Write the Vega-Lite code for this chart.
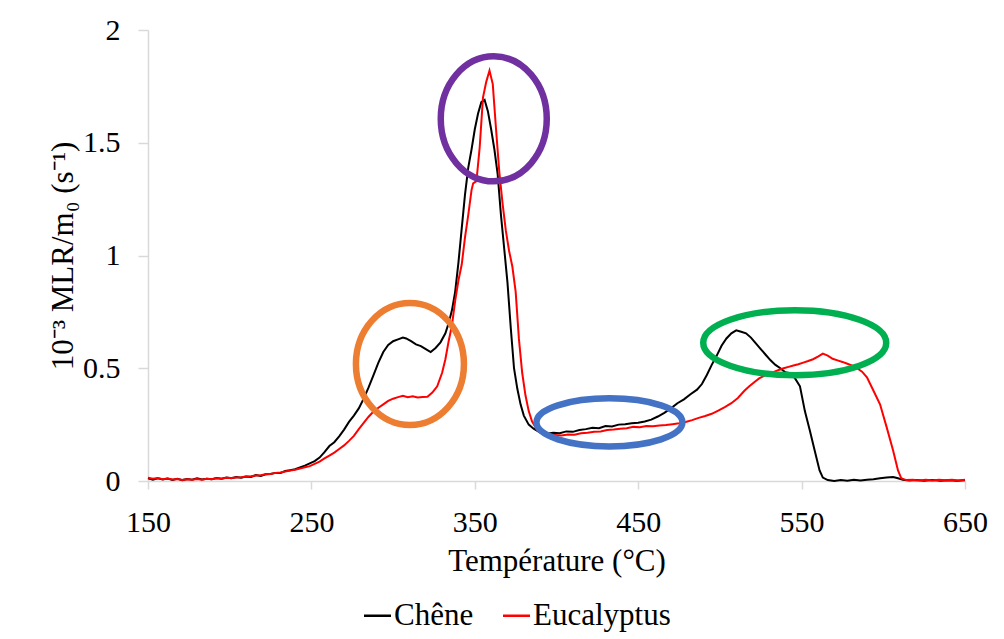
{
  "$schema": "https://vega.github.io/schema/vega-lite/v6.json",
  "width": 817,
  "height": 451,
  "autosize": {"type": "none"},
  "padding": {"left": 148, "top": 30, "right": 39, "bottom": 158},
  "background": "white",
  "config": {
    "view": {"stroke": null},
    "font": "Liberation Serif",
    "axis": {
      "labelFont": "Liberation Serif",
      "titleFont": "Liberation Serif",
      "labelColor": "#000000",
      "titleColor": "#000000",
      "titleFontWeight": "normal",
      "domainColor": "#D9D9D9",
      "domainWidth": 1.5,
      "tickColor": "#D9D9D9",
      "tickWidth": 1.5,
      "grid": false,
      "labelFlush": false,
      "labelOverlap": false
    },
    "legend": {
      "labelFont": "Liberation Serif",
      "labelColor": "#000000"
    }
  },
  "datasets": {
    "curves": [
      {"s":"Chêne","T":150,"v":0.012},{"s":"Chêne","T":153,"v":0.006},{"s":"Chêne","T":156,"v":0.012},{"s":"Chêne","T":159,"v":0.007},{"s":"Chêne","T":162,"v":0.011},{"s":"Chêne","T":165,"v":0.005},{"s":"Chêne","T":168,"v":0.010},{"s":"Chêne","T":171,"v":0.004},{"s":"Chêne","T":174,"v":0.009},{"s":"Chêne","T":177,"v":0.006},{"s":"Chêne","T":180,"v":0.012},{"s":"Chêne","T":183,"v":0.007},{"s":"Chêne","T":186,"v":0.010},{"s":"Chêne","T":189,"v":0.008},{"s":"Chêne","T":192,"v":0.013},{"s":"Chêne","T":195,"v":0.010},{"s":"Chêne","T":198,"v":0.015},{"s":"Chêne","T":201,"v":0.012},{"s":"Chêne","T":204,"v":0.018},{"s":"Chêne","T":207,"v":0.015},{"s":"Chêne","T":210,"v":0.020},{"s":"Chêne","T":213,"v":0.018},{"s":"Chêne","T":216,"v":0.026},{"s":"Chêne","T":219,"v":0.022},{"s":"Chêne","T":222,"v":0.030},{"s":"Chêne","T":225,"v":0.031},{"s":"Chêne","T":228,"v":0.036},{"s":"Chêne","T":231,"v":0.035},{"s":"Chêne","T":234,"v":0.044},{"s":"Chêne","T":237,"v":0.048},{"s":"Chêne","T":240,"v":0.052},{"s":"Chêne","T":243,"v":0.060},{"s":"Chêne","T":246,"v":0.068},{"s":"Chêne","T":249,"v":0.078},{"s":"Chêne","T":252,"v":0.088},{"s":"Chêne","T":255,"v":0.104},{"s":"Chêne","T":258,"v":0.128},{"s":"Chêne","T":261,"v":0.155},{"s":"Chêne","T":264,"v":0.172},{"s":"Chêne","T":267,"v":0.198},{"s":"Chêne","T":270,"v":0.228},{"s":"Chêne","T":273,"v":0.262},{"s":"Chêne","T":276,"v":0.290},{"s":"Chêne","T":279,"v":0.322},{"s":"Chêne","T":282,"v":0.365},{"s":"Chêne","T":285,"v":0.415},{"s":"Chêne","T":288,"v":0.470},{"s":"Chêne","T":291,"v":0.525},{"s":"Chêne","T":294,"v":0.572},{"s":"Chêne","T":297,"v":0.603},{"s":"Chêne","T":300,"v":0.620},{"s":"Chêne","T":303,"v":0.628},{"s":"Chêne","T":306,"v":0.636},{"s":"Chêne","T":308,"v":0.632},{"s":"Chêne","T":311,"v":0.620},{"s":"Chêne","T":314,"v":0.606},{"s":"Chêne","T":317,"v":0.598},{"s":"Chêne","T":320,"v":0.585},{"s":"Chêne","T":323,"v":0.572},{"s":"Chêne","T":326,"v":0.590},{"s":"Chêne","T":329,"v":0.615},{"s":"Chêne","T":332,"v":0.655},{"s":"Chêne","T":334,"v":0.700},{"s":"Chêne","T":336,"v":0.757},{"s":"Chêne","T":338,"v":0.84},{"s":"Chêne","T":340,"v":0.97},{"s":"Chêne","T":342,"v":1.12},{"s":"Chêne","T":344,"v":1.27},{"s":"Chêne","T":346,"v":1.39},{"s":"Chêne","T":348,"v":1.47},{"s":"Chêne","T":350,"v":1.56},{"s":"Chêne","T":352,"v":1.63},{"s":"Chêne","T":354,"v":1.68},{"s":"Chêne","T":356,"v":1.69},{"s":"Chêne","T":358,"v":1.64},{"s":"Chêne","T":360,"v":1.56},{"s":"Chêne","T":362,"v":1.47},{"s":"Chêne","T":364,"v":1.36},{"s":"Chêne","T":366,"v":1.18},{"s":"Chêne","T":368,"v":1.03},{"s":"Chêne","T":370,"v":0.88},{"s":"Chêne","T":372,"v":0.68},{"s":"Chêne","T":374,"v":0.50},{"s":"Chêne","T":376,"v":0.41},{"s":"Chêne","T":378,"v":0.34},{"s":"Chêne","T":380,"v":0.29},{"s":"Chêne","T":383,"v":0.25},{"s":"Chêne","T":386,"v":0.232},{"s":"Chêne","T":390,"v":0.215},{"s":"Chêne","T":394,"v":0.210},{"s":"Chêne","T":398,"v":0.214},{"s":"Chêne","T":402,"v":0.212},{"s":"Chêne","T":406,"v":0.220},{"s":"Chêne","T":410,"v":0.218},{"s":"Chêne","T":414,"v":0.226},{"s":"Chêne","T":418,"v":0.230},{"s":"Chêne","T":422,"v":0.236},{"s":"Chêne","T":426,"v":0.234},{"s":"Chêne","T":430,"v":0.244},{"s":"Chêne","T":434,"v":0.242},{"s":"Chêne","T":438,"v":0.250},{"s":"Chêne","T":442,"v":0.252},{"s":"Chêne","T":446,"v":0.256},{"s":"Chêne","T":450,"v":0.258},{"s":"Chêne","T":454,"v":0.264},{"s":"Chêne","T":458,"v":0.272},{"s":"Chêne","T":462,"v":0.286},{"s":"Chêne","T":466,"v":0.302},{"s":"Chêne","T":470,"v":0.322},{"s":"Chêne","T":474,"v":0.345},{"s":"Chêne","T":478,"v":0.362},{"s":"Chêne","T":482,"v":0.385},{"s":"Chêne","T":486,"v":0.405},{"s":"Chêne","T":489,"v":0.430},{"s":"Chêne","T":492,"v":0.470},{"s":"Chêne","T":495,"v":0.515},{"s":"Chêne","T":498,"v":0.555},{"s":"Chêne","T":501,"v":0.600},{"s":"Chêne","T":504,"v":0.632},{"s":"Chêne","T":507,"v":0.655},{"s":"Chêne","T":510,"v":0.668},{"s":"Chêne","T":513,"v":0.662},{"s":"Chêne","T":516,"v":0.655},{"s":"Chêne","T":519,"v":0.636},{"s":"Chêne","T":522,"v":0.610},{"s":"Chêne","T":525,"v":0.585},{"s":"Chêne","T":528,"v":0.560},{"s":"Chêne","T":531,"v":0.535},{"s":"Chêne","T":534,"v":0.515},{"s":"Chêne","T":537,"v":0.500},{"s":"Chêne","T":540,"v":0.482},{"s":"Chêne","T":543,"v":0.478},{"s":"Chêne","T":546,"v":0.455},{"s":"Chêne","T":549,"v":0.420},{"s":"Chêne","T":552,"v":0.310},{"s":"Chêne","T":555,"v":0.225},{"s":"Chêne","T":558,"v":0.135},{"s":"Chêne","T":561,"v":0.047},{"s":"Chêne","T":563,"v":0.015},{"s":"Chêne","T":566,"v":0.004},{"s":"Chêne","T":570,"v":0.000},{"s":"Chêne","T":574,"v":0.004},{"s":"Chêne","T":578,"v":0.001},{"s":"Chêne","T":582,"v":0.005},{"s":"Chêne","T":586,"v":0.002},{"s":"Chêne","T":590,"v":0.006},{"s":"Chêne","T":594,"v":0.008},{"s":"Chêne","T":598,"v":0.012},{"s":"Chêne","T":602,"v":0.016},{"s":"Chêne","T":606,"v":0.018},{"s":"Chêne","T":609,"v":0.012},{"s":"Chêne","T":612,"v":0.005},{"s":"Chêne","T":616,"v":0.002},{"s":"Chêne","T":620,"v":0.004},{"s":"Chêne","T":625,"v":0.001},{"s":"Chêne","T":630,"v":0.004},{"s":"Chêne","T":635,"v":0.001},{"s":"Chêne","T":640,"v":0.003},{"s":"Chêne","T":645,"v":0.001},{"s":"Chêne","T":650,"v":0.003},
      {"s":"Eucalyptus","T":150,"v":0.015},{"s":"Eucalyptus","T":153,"v":0.010},{"s":"Eucalyptus","T":156,"v":0.013},{"s":"Eucalyptus","T":159,"v":0.008},{"s":"Eucalyptus","T":162,"v":0.011},{"s":"Eucalyptus","T":165,"v":0.007},{"s":"Eucalyptus","T":168,"v":0.009},{"s":"Eucalyptus","T":171,"v":0.005},{"s":"Eucalyptus","T":174,"v":0.008},{"s":"Eucalyptus","T":177,"v":0.006},{"s":"Eucalyptus","T":180,"v":0.009},{"s":"Eucalyptus","T":183,"v":0.006},{"s":"Eucalyptus","T":186,"v":0.010},{"s":"Eucalyptus","T":189,"v":0.008},{"s":"Eucalyptus","T":192,"v":0.012},{"s":"Eucalyptus","T":195,"v":0.010},{"s":"Eucalyptus","T":198,"v":0.014},{"s":"Eucalyptus","T":201,"v":0.013},{"s":"Eucalyptus","T":204,"v":0.016},{"s":"Eucalyptus","T":207,"v":0.017},{"s":"Eucalyptus","T":210,"v":0.020},{"s":"Eucalyptus","T":213,"v":0.021},{"s":"Eucalyptus","T":216,"v":0.024},{"s":"Eucalyptus","T":219,"v":0.026},{"s":"Eucalyptus","T":222,"v":0.030},{"s":"Eucalyptus","T":225,"v":0.031},{"s":"Eucalyptus","T":228,"v":0.036},{"s":"Eucalyptus","T":231,"v":0.038},{"s":"Eucalyptus","T":234,"v":0.042},{"s":"Eucalyptus","T":237,"v":0.046},{"s":"Eucalyptus","T":240,"v":0.050},{"s":"Eucalyptus","T":243,"v":0.055},{"s":"Eucalyptus","T":246,"v":0.061},{"s":"Eucalyptus","T":249,"v":0.066},{"s":"Eucalyptus","T":252,"v":0.076},{"s":"Eucalyptus","T":255,"v":0.086},{"s":"Eucalyptus","T":258,"v":0.100},{"s":"Eucalyptus","T":261,"v":0.113},{"s":"Eucalyptus","T":264,"v":0.126},{"s":"Eucalyptus","T":267,"v":0.142},{"s":"Eucalyptus","T":270,"v":0.158},{"s":"Eucalyptus","T":273,"v":0.178},{"s":"Eucalyptus","T":276,"v":0.200},{"s":"Eucalyptus","T":279,"v":0.230},{"s":"Eucalyptus","T":282,"v":0.258},{"s":"Eucalyptus","T":285,"v":0.285},{"s":"Eucalyptus","T":288,"v":0.308},{"s":"Eucalyptus","T":291,"v":0.325},{"s":"Eucalyptus","T":294,"v":0.340},{"s":"Eucalyptus","T":297,"v":0.355},{"s":"Eucalyptus","T":300,"v":0.365},{"s":"Eucalyptus","T":303,"v":0.372},{"s":"Eucalyptus","T":306,"v":0.378},{"s":"Eucalyptus","T":309,"v":0.372},{"s":"Eucalyptus","T":312,"v":0.376},{"s":"Eucalyptus","T":315,"v":0.370},{"s":"Eucalyptus","T":318,"v":0.372},{"s":"Eucalyptus","T":321,"v":0.374},{"s":"Eucalyptus","T":324,"v":0.392},{"s":"Eucalyptus","T":327,"v":0.420},{"s":"Eucalyptus","T":330,"v":0.480},{"s":"Eucalyptus","T":332,"v":0.540},{"s":"Eucalyptus","T":334,"v":0.620},{"s":"Eucalyptus","T":336,"v":0.690},{"s":"Eucalyptus","T":338,"v":0.800},{"s":"Eucalyptus","T":340,"v":0.890},{"s":"Eucalyptus","T":342,"v":0.960},{"s":"Eucalyptus","T":344,"v":1.080},{"s":"Eucalyptus","T":346,"v":1.180},{"s":"Eucalyptus","T":348,"v":1.290},{"s":"Eucalyptus","T":349,"v":1.320},{"s":"Eucalyptus","T":351,"v":1.330},{"s":"Eucalyptus","T":353,"v":1.480},{"s":"Eucalyptus","T":355,"v":1.700},{"s":"Eucalyptus","T":357,"v":1.770},{"s":"Eucalyptus","T":359,"v":1.820},{"s":"Eucalyptus","T":361,"v":1.760},{"s":"Eucalyptus","T":363,"v":1.560},{"s":"Eucalyptus","T":365,"v":1.370},{"s":"Eucalyptus","T":367,"v":1.230},{"s":"Eucalyptus","T":369,"v":1.110},{"s":"Eucalyptus","T":371,"v":1.020},{"s":"Eucalyptus","T":373,"v":0.950},{"s":"Eucalyptus","T":375,"v":0.840},{"s":"Eucalyptus","T":377,"v":0.630},{"s":"Eucalyptus","T":379,"v":0.480},{"s":"Eucalyptus","T":381,"v":0.380},{"s":"Eucalyptus","T":383,"v":0.310},{"s":"Eucalyptus","T":385,"v":0.265},{"s":"Eucalyptus","T":388,"v":0.228},{"s":"Eucalyptus","T":391,"v":0.212},{"s":"Eucalyptus","T":395,"v":0.206},{"s":"Eucalyptus","T":399,"v":0.204},{"s":"Eucalyptus","T":403,"v":0.202},{"s":"Eucalyptus","T":407,"v":0.206},{"s":"Eucalyptus","T":411,"v":0.205},{"s":"Eucalyptus","T":415,"v":0.212},{"s":"Eucalyptus","T":419,"v":0.214},{"s":"Eucalyptus","T":423,"v":0.218},{"s":"Eucalyptus","T":427,"v":0.220},{"s":"Eucalyptus","T":431,"v":0.226},{"s":"Eucalyptus","T":435,"v":0.228},{"s":"Eucalyptus","T":439,"v":0.232},{"s":"Eucalyptus","T":443,"v":0.234},{"s":"Eucalyptus","T":447,"v":0.240},{"s":"Eucalyptus","T":451,"v":0.238},{"s":"Eucalyptus","T":455,"v":0.244},{"s":"Eucalyptus","T":459,"v":0.243},{"s":"Eucalyptus","T":463,"v":0.246},{"s":"Eucalyptus","T":467,"v":0.248},{"s":"Eucalyptus","T":471,"v":0.252},{"s":"Eucalyptus","T":475,"v":0.256},{"s":"Eucalyptus","T":479,"v":0.262},{"s":"Eucalyptus","T":483,"v":0.270},{"s":"Eucalyptus","T":487,"v":0.280},{"s":"Eucalyptus","T":491,"v":0.288},{"s":"Eucalyptus","T":495,"v":0.298},{"s":"Eucalyptus","T":499,"v":0.312},{"s":"Eucalyptus","T":503,"v":0.328},{"s":"Eucalyptus","T":507,"v":0.345},{"s":"Eucalyptus","T":511,"v":0.368},{"s":"Eucalyptus","T":515,"v":0.400},{"s":"Eucalyptus","T":518,"v":0.420},{"s":"Eucalyptus","T":521,"v":0.438},{"s":"Eucalyptus","T":524,"v":0.455},{"s":"Eucalyptus","T":527,"v":0.466},{"s":"Eucalyptus","T":530,"v":0.476},{"s":"Eucalyptus","T":533,"v":0.484},{"s":"Eucalyptus","T":536,"v":0.492},{"s":"Eucalyptus","T":539,"v":0.500},{"s":"Eucalyptus","T":542,"v":0.506},{"s":"Eucalyptus","T":545,"v":0.512},{"s":"Eucalyptus","T":548,"v":0.518},{"s":"Eucalyptus","T":551,"v":0.525},{"s":"Eucalyptus","T":554,"v":0.532},{"s":"Eucalyptus","T":557,"v":0.540},{"s":"Eucalyptus","T":560,"v":0.552},{"s":"Eucalyptus","T":563,"v":0.565},{"s":"Eucalyptus","T":566,"v":0.556},{"s":"Eucalyptus","T":569,"v":0.542},{"s":"Eucalyptus","T":572,"v":0.535},{"s":"Eucalyptus","T":575,"v":0.528},{"s":"Eucalyptus","T":578,"v":0.520},{"s":"Eucalyptus","T":581,"v":0.512},{"s":"Eucalyptus","T":584,"v":0.500},{"s":"Eucalyptus","T":587,"v":0.485},{"s":"Eucalyptus","T":590,"v":0.460},{"s":"Eucalyptus","T":594,"v":0.400},{"s":"Eucalyptus","T":598,"v":0.340},{"s":"Eucalyptus","T":602,"v":0.240},{"s":"Eucalyptus","T":606,"v":0.135},{"s":"Eucalyptus","T":609,"v":0.047},{"s":"Eucalyptus","T":611,"v":0.012},{"s":"Eucalyptus","T":614,"v":0.004},{"s":"Eucalyptus","T":618,"v":0.006},{"s":"Eucalyptus","T":622,"v":0.002},{"s":"Eucalyptus","T":626,"v":0.005},{"s":"Eucalyptus","T":630,"v":0.002},{"s":"Eucalyptus","T":634,"v":0.006},{"s":"Eucalyptus","T":638,"v":0.003},{"s":"Eucalyptus","T":642,"v":0.005},{"s":"Eucalyptus","T":646,"v":0.002},{"s":"Eucalyptus","T":650,"v":0.006}
    ]
  },
  "layer": [
    {
      "data": {"name": "curves"},
      "mark": {"type": "line", "strokeWidth": 2, "interpolate": "linear"},
      "encoding": {
        "x": {
          "field": "T", "type": "quantitative",
          "scale": {"domain": [150, 650], "nice": false, "zero": false},
          "axis": {
            "values": [150, 250, 350, 450, 550, 650],
            "tickSize": 8,
            "labelFontSize": 30,
            "labelPadding": 18,
            "title": "Température (°C)",
            "titleFontSize": 31,
            "titlePadding": 9
          }
        },
        "y": {
          "field": "v", "type": "quantitative",
          "scale": {"domain": [0, 2], "nice": false},
          "axis": {
            "values": [0, 0.5, 1, 1.5, 2],
            "format": "~g",
            "tickSize": 10,
            "labelFontSize": 30,
            "labelPadding": 18,
            "title": "10⁻³ MLR/m₀ (s⁻¹)",
            "titleFontSize": 31,
            "titlePadding": 3
          }
        },
        "color": {
          "field": "s", "type": "nominal",
          "scale": {"domain": ["Chêne", "Eucalyptus"], "range": ["#000000", "#FF0000"]},
          "legend": {
            "title": null,
            "orient": "none",
            "direction": "horizontal",
            "legendX": 214,
            "legendY": 570,
            "symbolType": "stroke",
            "symbolSize": 729,
            "symbolStrokeWidth": 2.5,
            "labelFontSize": 31,
            "labelOffset": 1,
            "columnPadding": 24
          }
        }
      }
    },
    {
      "data": {"values": [{"T": 310.3, "v": 0.519}]},
      "mark": {"type": "point", "filled": false, "opacity": 1, "stroke": "#ED7D31", "strokeWidth": 6.5, "size": 11664,
        "shape": "M-1,0C-1,-0.624,-0.5523,-1.13,0,-1.13C0.5523,-1.13,1,-0.624,1,0C1,0.624,0.5523,1.13,0,1.13C-0.5523,1.13,-1,0.624,-1,0Z"},
      "encoding": {"x": {"field": "T", "type": "quantitative"}, "y": {"field": "v", "type": "quantitative"}}
    },
    {
      "data": {"values": [{"T": 361.6, "v": 1.606}]},
      "mark": {"type": "point", "filled": false, "opacity": 1, "stroke": "#7030A0", "strokeWidth": 6.5, "size": 11236,
        "shape": "M-1,0C-1,-0.651,-0.5523,-1.179,0,-1.179C0.5523,-1.179,1,-0.651,1,0C1,0.651,0.5523,1.179,0,1.179C-0.5523,1.179,-1,0.651,-1,0Z"},
      "encoding": {"x": {"field": "T", "type": "quantitative"}, "y": {"field": "v", "type": "quantitative"}}
    },
    {
      "data": {"values": [{"T": 432.4, "v": 0.26}]},
      "mark": {"type": "point", "filled": false, "opacity": 1, "stroke": "#4472C4", "strokeWidth": 6.5, "size": 21316,
        "shape": "M-1,0C-1,-0.1817,-0.5523,-0.329,0,-0.329C0.5523,-0.329,1,-0.1817,1,0C1,0.1817,0.5523,0.329,0,0.329C-0.5523,0.329,-1,0.1817,-1,0Z"},
      "encoding": {"x": {"field": "T", "type": "quantitative"}, "y": {"field": "v", "type": "quantitative"}}
    },
    {
      "data": {"values": [{"T": 545.8, "v": 0.613}]},
      "mark": {"type": "point", "filled": false, "opacity": 1, "stroke": "#00B050", "strokeWidth": 6.5, "size": 33489,
        "shape": "M-1,0C-1,-0.196,-0.5523,-0.355,0,-0.355C0.5523,-0.355,1,-0.196,1,0C1,0.196,0.5523,0.355,0,0.355C-0.5523,0.355,-1,0.196,-1,0Z"},
      "encoding": {"x": {"field": "T", "type": "quantitative"}, "y": {"field": "v", "type": "quantitative"}}
    }
  ]
}
